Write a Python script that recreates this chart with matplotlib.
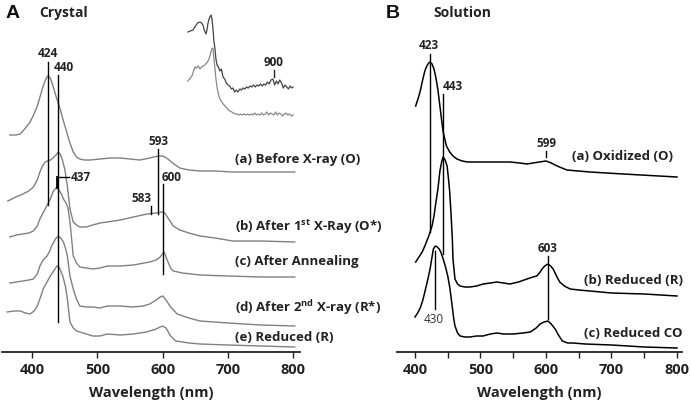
import numpy as np
import matplotlib
matplotlib.use("Agg")
from matplotlib import pyplot as plt

plt.rcParams['font.family'] = ['Open Sans', 'DejaVu Sans']
plt.rcParams['font.weight'] = 'bold'
plt.rcParams['axes.labelweight'] = 'bold'
plt.rcParams['mathtext.fontset'] = 'custom'
plt.rcParams['mathtext.rm'] = 'Open Sans'
plt.rcParams['mathtext.bf'] = 'Open Sans:bold'

# ---- panel A : crystal spectra (offset, arbitrary units) ----
wl_a = [366, 375, 382, 390, 397, 403, 408, 413, 417, 421, 424, 428, 432, 437, 443, 448, 453, 458, 463,
        468, 473, 480, 489, 504, 520, 535, 550, 565, 580, 593, 600, 606, 615, 626, 640, 657, 680, 707, 750, 802]
abs_a = [2.17, 2.17, 2.18, 2.24, 2.30, 2.38, 2.46, 2.57, 2.66, 2.73, 2.76, 2.74, 2.66, 2.55, 2.43, 2.31, 2.20,
         2.09, 2.00, 1.95, 1.93, 1.92, 1.92, 1.93, 1.94, 1.94, 1.93, 1.92, 1.94, 1.96, 1.96, 1.94, 1.89, 1.84,
         1.82, 1.81, 1.81, 1.80, 1.80, 1.80]

wl_b = [363, 375, 386, 395, 402, 408, 412, 416, 420, 424, 428, 432, 435, 438, 440, 443, 446, 450, 454, 458,
        463, 468, 473, 483, 493, 504, 515, 535, 555, 576, 590, 599, 603, 607, 611, 616, 626, 640, 657, 680, 707, 750, 802]
abs_b = [1.51, 1.55, 1.58, 1.61, 1.65, 1.72, 1.80, 1.86, 1.90, 1.91, 1.92, 1.94, 1.96, 1.98, 2.00, 1.98, 1.93,
         1.83, 1.66, 1.43, 1.30, 1.27, 1.25, 1.25, 1.27, 1.29, 1.30, 1.32, 1.35, 1.38, 1.39, 1.40, 1.39, 1.35,
         1.31, 1.26, 1.22, 1.19, 1.16, 1.14, 1.11, 1.11, 1.10]

wl_c = [366, 376, 386, 395, 402, 408, 412, 416, 420, 424, 428, 432, 435, 438, 441, 445, 448, 452, 455, 458,
        461, 463, 468, 473, 483, 493, 504, 515, 535, 555, 580, 590, 596, 602, 608, 612, 616, 630, 657, 700, 750, 802]
abs_c = [1.15, 1.17, 1.18, 1.19, 1.21, 1.26, 1.33, 1.38, 1.43, 1.48, 1.53, 1.60, 1.63, 1.65, 1.62, 1.58, 1.53,
         1.49, 1.44, 1.30, 1.10, 0.96, 0.89, 0.85, 0.84, 0.83, 0.84, 0.86, 0.86, 0.87, 0.90, 0.92, 0.95, 1.00,
         0.90, 0.84, 0.81, 0.79, 0.77, 0.76, 0.75, 0.75]

wl_d = [366, 376, 386, 395, 402, 408, 412, 417, 423, 427, 430, 434, 437, 440, 444, 448, 451, 454, 458, 463,
        468, 473, 483, 493, 504, 515, 535, 554, 570, 580, 590, 596, 600, 605, 612, 622, 640, 657, 700, 750, 802]
abs_d = [0.69, 0.70, 0.71, 0.72, 0.73, 0.78, 0.86, 0.92, 0.96, 1.01, 1.06, 1.11, 1.14, 1.16, 1.14, 1.10, 1.04,
         0.96, 0.76, 0.63, 0.53, 0.46, 0.45, 0.45, 0.44, 0.46, 0.46, 0.45, 0.46, 0.48, 0.52, 0.55, 0.56, 0.52,
         0.45, 0.38, 0.34, 0.31, 0.29, 0.27, 0.26]

wl_e = [362, 372, 382, 390, 397, 403, 408, 413, 417, 422, 428, 433, 436, 438, 441, 444, 447, 451, 454, 458,
        463, 468, 473, 483, 493, 504, 515, 535, 555, 575, 590, 596, 600, 605, 612, 620, 640, 657, 700, 750, 802]
abs_e = [0.40, 0.41, 0.41, 0.39, 0.38, 0.41, 0.46, 0.55, 0.63, 0.69, 0.76, 0.81, 0.84, 0.86, 0.85, 0.81, 0.76,
         0.66, 0.53, 0.30, 0.24, 0.21, 0.20, 0.18, 0.16, 0.16, 0.18, 0.17, 0.18, 0.20, 0.23, 0.25, 0.26, 0.24,
         0.16, 0.11, 0.09, 0.08, 0.07, 0.06, 0.05]

labels_A = ['(a) Before X-ray (O)', r'(b) After 1$^{\mathbf{st}}$ X-Ray (O*)', '(c) After Annealing',
            r'(d) After 2$^{\mathbf{nd}}$ X-ray (R*)', '(e) Reduced (R)']
label_y_A = [1.93, 1.26, 0.91, 0.45, 0.15]

# inset: wide-range spectra (260-1040 nm)
wl_in1 = [258, 275, 296, 315, 330, 348, 360, 370, 380, 393, 400, 408, 418, 430, 438, 445, 452, 460, 467, 475,
          485, 497, 508, 520, 532, 545, 557, 570, 582, 594, 606, 618, 631, 645, 658, 669, 682, 695, 708, 721,
          734, 747, 760, 773, 786, 799, 812, 825, 838, 851, 864, 877, 892, 905, 918, 930, 943, 956, 969, 982,
          995, 1008, 1020, 1032, 1042]
abs_in1 = [.97, .98, .99, 1.03, 1.06, 1.07, 1.06, 1.04, .99, .95, .99, 1.06, 1.11, 1.14, 1.10, 1.00, .88, .80,
           .70, .64, .62, .58, .60, .52, .50, .46, .44, .43, .40, .41, .37, .39, .37, .40, .39, .41, .40, .42,
           .41, .43, .42, .44, .42, .44, .43, .45, .43, .45, .44, .47, .45, .49, .50, .44, .48, .45, .49, .46,
           .41, .44, .42, .40, .43, .41, .42]
wl_in2 = [258, 270, 288, 300, 311, 322, 335, 348, 360, 370, 385, 398, 408, 420, 430, 437, 445, 452, 460, 467,
          475, 485, 497, 510, 522, 534, 547, 560, 572, 585, 598, 611, 624, 637, 650, 663, 676, 689, 702, 715,
          728, 743, 756, 769, 782, 795, 808, 821, 834, 847, 860, 873, 886, 899, 912, 925, 938, 951, 964, 977,
          990, 1003, 1016, 1029, 1042]
abs_in2 = [.48, .50, .53, .58, .62, .61, .63, .60, .62, .63, .64, .66, .68, .72, .77, .80, .81, .70, .60, .50,
           .42, .35, .30, .27, .25, .23, .21, .19, .18, .17, .16, .15, .15, .14, .15, .14, .15, .14, .15, .14,
           .15, .14, .16, .14, .15, .14, .16, .14, .15, .17, .14, .16, .15, .14, .17, .14, .16, .15, .13, .15,
           .16, .14, .15, .13, .14]

# ---- panel B : solution spectra ----
wl_ox = [401, 405, 408, 412, 415, 418, 421, 423, 426, 429, 432, 435, 438, 441, 443, 448, 453, 458, 464, 472,
         480, 495, 520, 545, 560, 571, 580, 590, 600, 608, 617, 632, 667, 718, 800]
abs_ox = [2.46, 2.54, 2.61, 2.73, 2.81, 2.86, 2.89, 2.90, 2.88, 2.83, 2.74, 2.62, 2.46, 2.30, 2.20, 2.06,
          2.00, 1.96, 1.93, 1.91, 1.90, 1.90, 1.90, 1.90, 1.89, 1.88, 1.89, 1.90, 1.91, 1.89, 1.86, 1.82,
          1.80, 1.78, 1.75]

wl_red = [401, 406, 411, 415, 418, 421, 423, 426, 429, 432, 435, 438, 441, 443, 446, 449, 451, 453, 455, 457,
          458, 461, 465, 469, 476, 484, 494, 504, 515, 525, 535, 545, 558, 571, 580, 586, 590, 594, 598, 603,
          607, 611, 616, 621, 628, 637, 650, 667, 700, 750, 800]
abs_red = [0.90, 0.95, 1.00, 1.06, 1.11, 1.16, 1.20, 1.26, 1.36, 1.50, 1.63, 1.81, 1.91, 1.95, 1.92, 1.86,
           1.74, 1.60, 1.38, 1.13, 0.93, 0.73, 0.68, 0.66, 0.65, 0.65, 0.66, 0.68, 0.69, 0.70, 0.69, 0.68, 0.70,
           0.73, 0.75, 0.76, 0.79, 0.83, 0.86, 0.88, 0.86, 0.83, 0.76, 0.70, 0.66, 0.63, 0.62, 0.61, 0.59,
           0.58, 0.56]

wl_co = [400, 404, 408, 412, 415, 419, 423, 426, 428, 431, 434, 437, 440, 443, 447, 450, 453, 456, 459, 461,
         465, 469, 476, 484, 494, 504, 515, 525, 535, 550, 565, 576, 585, 591, 597, 603, 608, 614, 619, 625,
         633, 641, 660, 700, 750, 800]
abs_co = [0.35, 0.39, 0.44, 0.52, 0.60, 0.71, 0.83, 0.95, 1.03, 1.06, 1.05, 1.03, 0.99, 0.93, 0.84, 0.76,
          0.65, 0.50, 0.34, 0.26, 0.19, 0.16, 0.15, 0.15, 0.16, 0.16, 0.18, 0.19, 0.18, 0.18, 0.19, 0.20,
          0.24, 0.28, 0.30, 0.31, 0.28, 0.23, 0.17, 0.11, 0.09, 0.09, 0.08, 0.07, 0.05, 0.04]

labels_B = ['(a) Oxidized (O)', '(b) Reduced (R)', '(c) Reduced CO']
label_x_B = [717, 733, 733]
label_y_B = [1.96, 0.73, 0.19]

ticks_major = [400, 500, 600, 700, 800]
ticks_minor_B = [450, 550, 650, 750]

W, H = 691, 406
fig = plt.figure(figsize=(W / 100, H / 100), dpi=100)
dark = '#222222'

def style_axis(ax, xlim, major, minor=None):
    ax.set_xlim(*xlim)
    ax.set_ylim(0, 3.53)
    for s in ['top', 'right', 'left']:
        ax.spines[s].set_visible(False)
    ax.spines['bottom'].set_linewidth(1.3)
    ax.spines['bottom'].set_color(dark)
    ax.set_yticks([])
    ax.set_xticks(major)
    ax.set_xticklabels([str(v) for v in major], fontsize=10.5, fontweight='bold', color=dark)
    if minor is not None:
        ax.set_xticks(minor, minor=True)
        ax.tick_params(axis='x', which='minor', length=4, width=1, color=dark)
    ax.tick_params(axis='x', which='major', length=4, width=1, color=dark, pad=3)
    ax.set_xlabel('Wavelength (nm)', fontsize=10.5, fontweight='bold', color=dark, labelpad=7)
    ax.patch.set_alpha(0)

# ---------------- panel A ----------------
axA = fig.add_axes([2 / W, 53 / H, 298 / W, 353 / H])
style_axis(axA, (354, 810), ticks_major)
gray = '#808080'
for wl, ab in [(wl_a, abs_a), (wl_b, abs_b), (wl_c, abs_c), (wl_d, abs_d), (wl_e, abs_e)]:
    axA.plot(wl, ab, color=gray, lw=1.0)
for txt, y in zip(labels_A, label_y_A):
    axA.text(710, y, txt, fontsize=9.5, fontweight='bold', color=dark, va='center', ha='left')

kw = dict(color='black', lw=1.0)
axA.plot([424, 424], [2.90, 1.47], **kw)
axA.plot([440, 440], [2.77, 0.30], **kw)
axA.plot([441, 457], [1.75, 1.75], **kw)
axA.plot([438, 438], [1.75, 1.65], color='black', lw=2.0)
axA.plot([593, 593], [2.03, 1.38], **kw)
axA.plot([601, 601], [1.68, 0.78], **kw)
axA.plot([582, 582], [1.46, 1.38], **kw)
pk = dict(fontsize=8.5, fontweight='bold', color=dark)
axA.text(424, 2.93, '424', ha='center', va='bottom', **pk)
axA.text(449, 2.79, '440', ha='center', va='bottom', **pk)
axA.text(459, 1.75, '437', ha='left', va='center', **pk)
axA.text(593, 2.05, '593', ha='center', va='bottom', **pk)
axA.text(613, 1.69, '600', ha='center', va='bottom', **pk)
axA.text(568, 1.48, '583', ha='center', va='bottom', **pk)

fig.text(13 / W, 1 - 13 / H, 'A', fontsize=14, fontweight='bold', family='Liberation Sans',
         ha='center', va='center', color='#111111')
fig.text(39 / W, 1 - 13 / H, 'Crystal', fontsize=10, fontweight='bold', ha='left', va='center',
         color=dark)

# inset
axI = fig.add_axes([180 / W, 1 - 130 / H, 120 / W, 120 / H])
axI.set_xlim(199, 1094)
axI.set_ylim(0, 1.2)
axI.axis('off')
axI.plot(wl_in1, abs_in1, color='#444444', lw=0.9)
axI.plot(wl_in2, abs_in2, color='#888888', lw=0.9)
axI.plot([900, 900], [0.52, 0.59], color=dark, lw=1.0)
axI.text(900, 0.61, '900', ha='center', va='bottom', **pk)

# ---------------- panel B ----------------
axB = fig.add_axes([397 / W, 53 / H, 285 / W, 353 / H])
style_axis(axB, (372.5, 807.7), ticks_major, ticks_minor_B)
for wl, ab in [(wl_ox, abs_ox), (wl_red, abs_red), (wl_co, abs_co)]:
    axB.plot(wl, ab, color='black', lw=1.1)
for txt, x, y in zip(labels_B, label_x_B, label_y_B):
    axB.text(x, y, txt, fontsize=9.5, fontweight='bold', color=dark, va='center', ha='center')

axB.plot([423, 423], [2.98, 1.20], **kw)
axB.plot([443, 443], [2.58, 0.98], **kw)
axB.plot([600, 600], [1.95, 2.01], **kw)
axB.plot([603, 603], [0.96, 0.33], **kw)
axB.plot([431, 431], [1.01, 0.43], **kw)
axB.text(421, 3.01, '423', ha='center', va='bottom', **pk)
axB.text(458, 2.60, '443', ha='center', va='bottom', **pk)
axB.text(600, 2.03, '599', ha='center', va='bottom', **pk)
axB.text(603, 0.98, '603', ha='center', va='bottom', **pk)
axB.text(428, 0.40, '430', ha='center', va='top', fontsize=8.5, fontweight='normal', color='#333333')

fig.text(393 / W, 1 - 13 / H, 'B', fontsize=14, fontweight='bold', family='Liberation Sans',
         ha='center', va='center', color='#111111')
fig.text(433 / W, 1 - 13 / H, 'Solution', fontsize=10, fontweight='bold', ha='left', va='center',
         color=dark)

fig.savefig('out.png', dpi=100)
